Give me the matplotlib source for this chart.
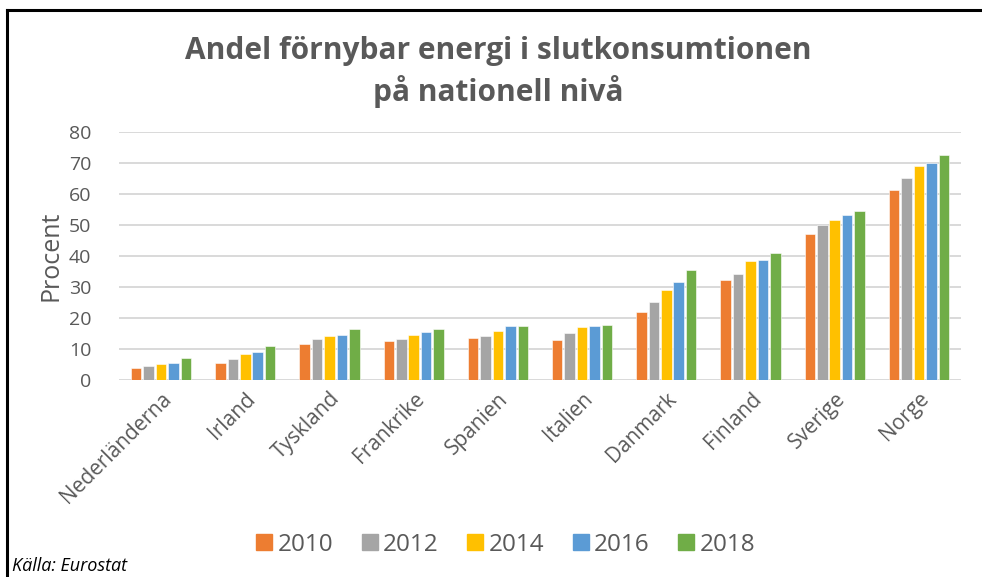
import matplotlib
matplotlib.use("Agg")
import matplotlib.pyplot as plt
from matplotlib.lines import Line2D
import numpy as np

categories = ["Nederländerna", "Irland", "Tyskland", "Frankrike", "Spanien",
              "Italien", "Danmark", "Finland", "Sverige", "Norge"]
years = ["2010", "2012", "2014", "2016", "2018"]
v2010 = [3.8, 5.6, 11.5, 12.5, 13.7, 12.8, 21.8, 32.3, 47.0, 61.2]
v2012 = [4.6, 6.9, 13.3, 13.3, 14.3, 15.3, 25.2, 34.2, 50.0, 65.3]
v2014 = [5.3, 8.4, 14.3, 14.6, 15.9, 17.1, 29.1, 38.5, 51.6, 69.0]
v2016 = [5.6, 9.0, 14.6, 15.6, 17.4, 17.4, 31.7, 38.8, 53.1, 70.0]
v2018 = [7.2, 10.9, 16.5, 16.5, 17.4, 17.7, 35.4, 41.0, 54.5, 72.5]
series = [v2010, v2012, v2014, v2016, v2018]
colors = ["#ED7D31", "#A5A5A5", "#FFC000", "#5B9BD5", "#70AD47"]
yticks = [0, 10, 20, 30, 40, 50, 60, 70, 80]

FONT = ["Open Sans", "DejaVu Sans"]
TXT = "#595959"
plt.rcParams["font.family"] = FONT

fig = plt.figure(figsize=(9.82, 5.77), dpi=100)
ax = fig.add_axes([119/982, 1 - 380/577, (961-119)/982, (380-132)/577])

x = np.arange(len(categories))
step = 0.148
width = 0.125
for i, (vals, c) in enumerate(zip(series, colors)):
    ax.bar(x + (i - 2) * step, vals, width=width, color=c, label=years[i],
           edgecolor="white", linewidth=0.4, zorder=3)

ax.set_xlim(-0.5, len(categories) - 0.5)
ax.set_ylim(0, 80)
ax.set_yticks(yticks)
ax.set_yticklabels([str(t) for t in yticks], fontsize=14, color=TXT)
ax.yaxis.grid(True, color="#D9D9D9", linewidth=1.4, zorder=0)
ax.set_axisbelow(True)
for s in ax.spines.values():
    s.set_visible(False)
ax.tick_params(axis="y", length=0, pad=20)
ax.tick_params(axis="x", length=0, pad=6)
ax.set_xticks(x)
ax.set_xticklabels(categories, rotation=45, ha="right", va="top",
                   rotation_mode="anchor", fontsize=15, color=TXT)
ax.set_ylabel("Procent", fontsize=18, color=TXT, labelpad=4)

fig.text(0.507, 1 - 72/577, "Andel förnybar energi i slutkonsumtionen\npå nationell nivå",
         ha="center", va="center", fontsize=21.5, fontweight="bold", color=TXT,
         linespacing=1.35)

handles = [Line2D([0], [0], marker="s", linestyle="none", markersize=11,
                  markerfacecolor=c, markeredgecolor=c) for c in colors]
fig.legend(handles, years, loc="center", bbox_to_anchor=(505/982, 1 - 545/577),
           ncol=5, frameon=False, fontsize=17.5, labelcolor=TXT,
           handletextpad=0.15, columnspacing=1.1, handlelength=0.8)

fig.text(12/982, 1 - 566/577, "Källa: Eurostat", ha="left", va="center",
         fontsize=13, style="italic", color="black")

# frame lines (top and left)
fig.add_artist(Line2D([7/982, 1.0], [1 - 10/577, 1 - 10/577], color="black",
                      linewidth=2.2, transform=fig.transFigure))
fig.add_artist(Line2D([7/982, 7/982], [0, 1 - 10/577], color="black",
                      linewidth=2.2, transform=fig.transFigure))

fig.savefig("out.png", dpi=100, facecolor="white")
